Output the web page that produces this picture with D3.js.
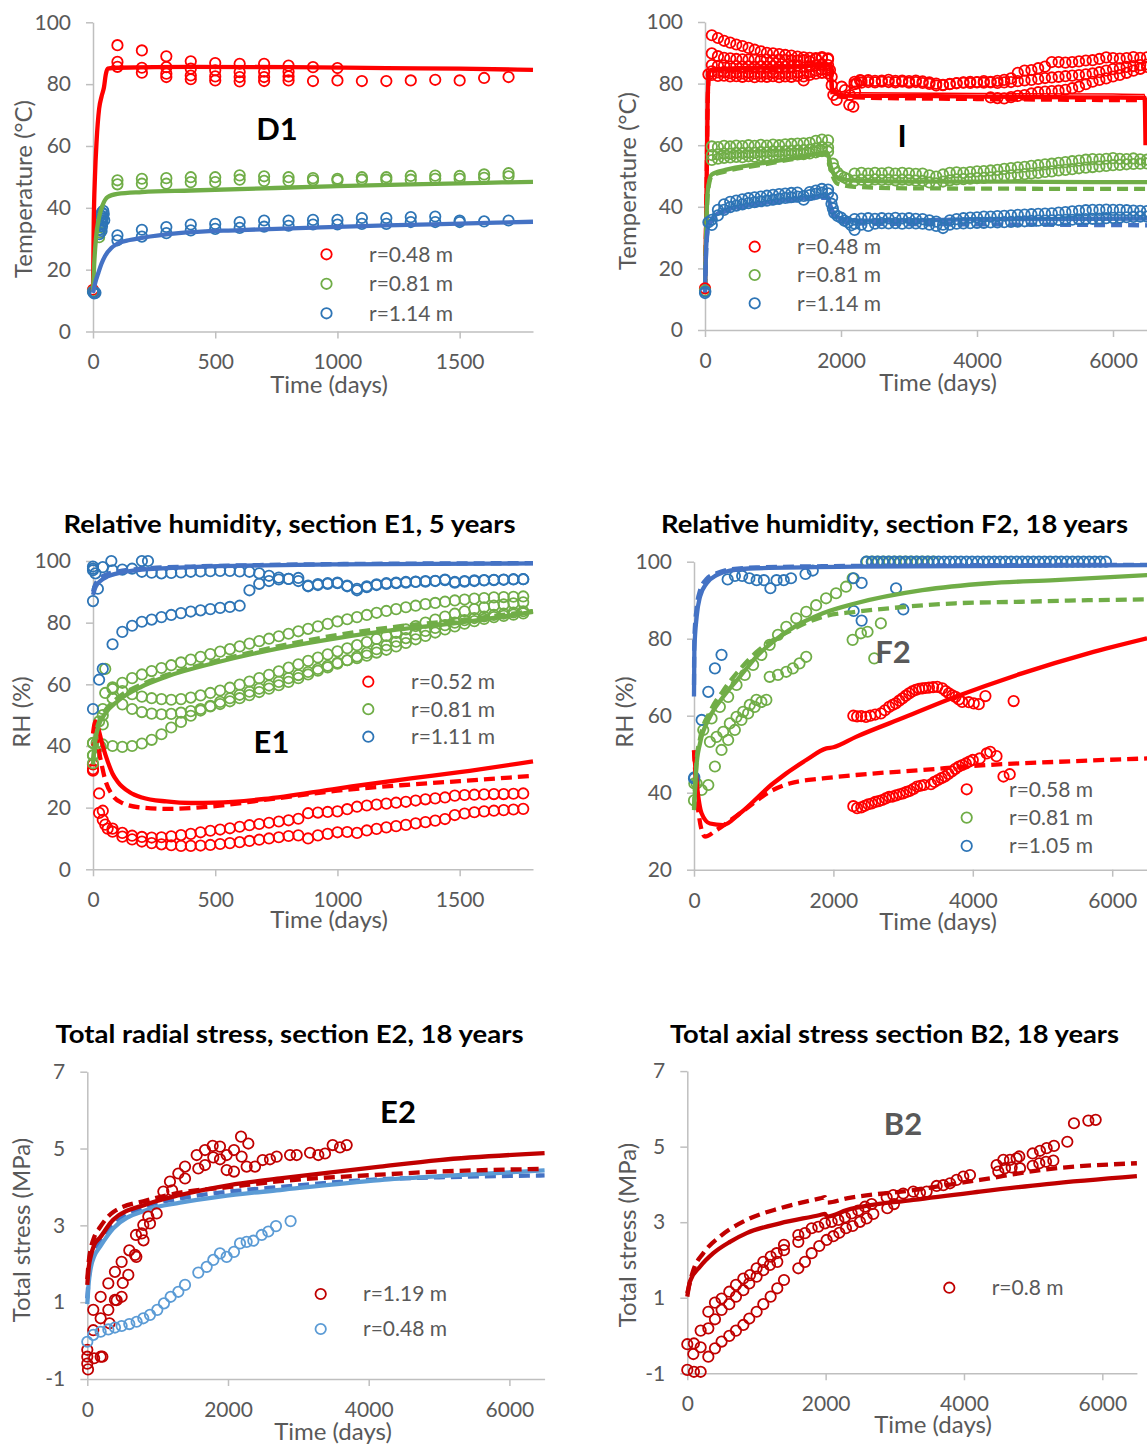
<!DOCTYPE html>
<html><head><meta charset="utf-8">
<script src="https://cdn.jsdelivr.net/npm/d3@7"></script>
<style>
body{margin:0;background:#fff}
svg{display:block}
text{font-family:Lato,'Open Sans',sans-serif}
</style>
</head><body>
<svg id="c" width="1147" height="1445"></svg>
<script>
// ======================= DATA =======================
// ---- Panel D1 : temperature, section D1 ----
const d1TicksX = [0, 500, 1000, 1500];
const d1TicksY = [0, 20, 40, 60, 80, 100];
const d1Legend = ["r=0.48 m", "r=0.81 m", "r=1.14 m"];
const d1RedObs = [[0,13.5],[3,12.8],
 [100,92.6],[100,87.2],[100,85.6],[200,90.9],[200,85.3],[200,83.7],
 [300,89.0],[300,85.5],[300,83.4],[300,82.3],[400,87.4],[400,85.0],[400,82.8],[400,81.6],
 [500,86.8],[500,84.5],[500,82.5],[500,81.2],[600,86.6],[600,83.9],[600,82.3],[600,80.9],
 [700,86.6],[700,84.0],[700,82.3],[700,81.0],[800,86.0],[800,84.0],[800,82.5],[800,81.2],
 [900,85.5],[900,81.0],[1000,85.2],[1000,81.2],[1100,81.0],[1200,81.0],[1300,81.2],
 [1400,81.4],[1500,81.2],[1600,82.0],[1700,82.3]];
const d1GreenObs = [[0,13],[25,30.5],[30,32],
 [100,48.9],[100,47.6],[200,49.4],[200,47.8],[300,49.6],[300,47.8],[400,49.9],[400,48.3],
 [500,49.9],[500,48.3],[600,50.5],[600,49.1],[700,50.2],[700,48.7],[800,49.9],[800,48.7],
 [900,49.6],[900,48.9],[1000,49.4],[1000,48.9],[1100,49.9],[1100,49.1],[1200,49.9],[1200,49.1],
 [1300,50.3],[1300,49.1],[1400,50.4],[1400,49.4],[1500,50.3],[1500,49.4],[1600,50.8],[1600,49.7],
 [1700,51.2],[1700,50.2]];
const d1BlueObs = [[0,12.8],[5,12.3],[10,12.5],
 [26,31.5],[28,33],[30,34.5],[32,36],[34,37.5],[36,38.5],[38,35],[40,37],[42,39],[35,32.5],[37,34],[39,36.5],[44,38],[46,36],
 [100,31.1],[100,29.5],[200,32.9],[200,30.7],[300,33.8],[300,31.8],[400,34.6],[400,32.7],
 [500,34.8],[500,33.2],[600,35.4],[600,33.5],[700,35.9],[700,33.9],[800,35.9],[800,34.2],
 [900,36.1],[900,34.6],[1000,36.1],[1000,34.6],[1100,36.7],[1100,34.8],[1200,36.7],[1200,34.8],
 [1300,37.0],[1300,35.4],[1400,37.2],[1400,35.4],[1500,35.9],[1500,35.4],[1600,35.6],[1700,35.9]];
const d1RedSim = [[0,13],[3,35],[8,50],[15,62],[25,72],[35,76],[45,79],[52,83],[60,85],[100,85.3],[400,85.6],[800,85.5],[1200,85.2],[1500,85],[1800,84.6]];
const d1GreenSim = [[0,13],[5,22],[12,30],[25,37],[40,41],[60,43.5],[100,44.5],[200,45.1],[400,45.6],[700,46.3],[1000,47],[1300,47.6],[1600,48.1],[1800,48.4]];
const d1BlueSim = [[0,12.5],[10,16],[22,19],[35,22],[50,24.5],[75,27],[100,28.4],[150,29.6],[200,30.3],[350,31.8],[600,32.8],[900,33.6],[1200,34.3],[1500,34.9],[1800,35.5]];

// ---- Panel I : temperature, section I ----
const iTicksX = [0, 2000, 4000, 6000];
const iTicksY = [0, 20, 40, 60, 80, 100];
const iLegend = ["r=0.48 m", "r=0.81 m", "r=1.14 m"];
const iPreDays = [100,190,280,370,460,550,640,730,820,910,1000,1090,1180,1270,1360,1450,1540,1630,1720,1810];
const iPostDays = [2200,2300,2400,2500,2600,2700,2800,2900,3000,3100,3200,3300,3400,3500,3600,3700,3800,3900,4000,4100,4200,4300,4400,4500,4600,4700,4800,4900,5000,5100,5200,5300,5400,5500,5600,5700,5800,5900,6000,6100,6200,6300,6400,6500];
const iLateDays = [4200,4300,4400,4500,4600,4700,4800,4900,5000,5100,5200,5300,5400,5500,5600,5700,5800,5900,6000,6100,6200,6300,6400,6500];
const iRedA = [95.7,94.8,93.9,93.3,92.7,92.2,91.6,91.0,90.5,90.0,89.8,89.6,89.3,89.1,88.8,88.5,88.4,88.3,88.6,88.2];
const iRedB = [89.8,88.9,88.4,88.2,88.0,87.9,87.8,87.9,87.7,87.8,87.6,87.8,87.7,87.6,87.5,87.6,87.2,88.0,88.3,87.9];
const iRedC = [86.0,85.8,85.9,85.6,85.7,85.5,85.6,85.4,85.6,85.5,85.7,85.4,85.6,85.5,85.8,81.0,85.6,85.9,86.3,86.0];
const iRedD = [84.0,83.6,83.7,83.4,83.5,83.3,83.5,83.2,83.4,83.3,83.5,83.2,83.4,83.3,83.6,83.4,83.8,84.2,84.5,84.3];
const iRedE = [82.8,82.5,82.6,82.3,82.4,82.2,82.4,82.1,82.3,82.2,82.4,82.1,82.3,82.2,82.5,82.3,82.8,83.2,83.5,83.3];
const iRedTransient = [[0,13.5],[50,83],[1838,84.4],[1863,82.2],[1863,79.5],[1887,76.3],[1936,74.7],[2010,79],[2059,77.9],[2122,73.1],[2181,72.5],[2132,76.3],[2206,77.4],[2230,80.1],[2279,81.1]];
const iRedF = [80.6,81.0,81.1,80.9,81.0,81.2,80.9,81.0,80.8,81.0,80.7,80.4,80.0,79.6,79.8,80.2,80.4,80.6,80.5,80.8,80.6,80.9,81.2,81.7,83.5,84.2,84.4,85.0,85.5,87.0,87.0,86.8,87.0,87.2,87.5,87.6,88.0,88.5,88.3,88.1,88.3,88.6,88.4,88.5];
const iRedG = [79.8,80.3,80.5,80.4,80.6,80.5,80.4,80.6,80.3,80.5,80.2,79.9,79.4,79.5,79.9,80.1,80.3,80.2,80.4,80.3,80.4,80.2,80.4,80.5,80.8,81.0,81.2,81.5,81.8,82.0,82.2,82.4,82.6,82.8,83.0,83.3,83.7,84.2,84.7,85.0,85.4,85.7,86.0,86.2];
const iRedH = [75.5,75.3,75.2,75.6,76.0,76.3,76.8,77.2,77.4,77.6,77.7,78.0,78.5,79.0,79.8,80.6,81.2,81.7,82.3,82.8,83.5,84.2,84.8,85.4];
const iGreenA = [59.6,59.4,59.8,59.6,59.9,59.7,60.0,59.8,60.1,59.9,60.2,60.0,60.3,60.4,60.5,60.6,60.8,61.4,61.8,61.6];
const iGreenB = [56.8,57.0,57.3,57.2,57.5,57.4,57.6,57.5,57.8,57.7,58.0,57.9,58.1,58.2,58.3,58.4,58.6,59.0,59.4,59.2];
const iGreenC = [55.2,55.6,55.9,56.0,56.2,56.1,56.4,56.3,56.5,56.4,56.7,56.6,56.8,56.9,57.0,57.1,57.3,57.7,58.1,57.9];
const iGreenTransient = [[0,12.8],[1880,54],[1900,52.5],[1950,51],[2000,50],[2050,49.5],[2100,49]];
const iGreenD = [50.8,51.0,50.8,51.0,50.9,51.1,50.8,51.0,50.9,50.7,50.8,50.2,49.8,50.5,51.0,51.2,51.0,51.3,51.5,51.6,51.8,52.0,52.3,52.6,52.8,53.0,53.3,53.5,53.8,54.0,54.3,54.5,54.8,55.0,55.3,55.5,55.4,55.6,55.8,55.6,55.5,55.7,55.4,55.3];
const iGreenE = [48.5,48.8,48.6,48.9,48.7,48.8,48.6,48.8,48.7,48.5,48.4,47.9,47.6,48.2,48.6,48.9,49.0,49.1,49.3,49.4,49.6,49.8,50.0,50.2,50.4,50.6,50.8,51.0,51.3,51.5,51.8,52.0,52.2,52.5,52.7,52.9,53.1,53.3,53.5,53.6,53.8,53.9,54.0,54.1];
const iBlueA = [35.8,39.0,40.8,41.6,42.0,42.4,42.8,43.1,43.3,43.6,43.9,44.1,44.3,44.5,44.6,42.3,44.8,45.3,45.8,45.6];
const iBlueB = [34.1,37.2,39.0,39.9,40.4,40.8,41.2,41.5,41.8,42.0,42.3,42.6,42.9,43.1,43.3,43.5,43.8,44.2,44.6,44.4];
const iBlueTransient = [[0,12],[5,12.5],[50,35],[1860,41],[1870,43],[1880,39.5],[1900,38],[1950,37],[2000,36.5],[2050,35.5],[2100,35],[2150,34],[2200,32.5]];
const iBlueC = [36.0,36.2,36.3,36.1,36.3,36.2,36.4,36.2,36.3,36.1,36.0,35.6,35.2,34.2,35.6,36.0,36.3,36.5,36.6,36.8,36.8,37.0,37.1,37.2,37.4,37.5,37.6,37.7,37.8,37.9,38.1,38.3,38.5,38.7,38.9,39.0,39.0,39.1,39.0,39.0,38.9,38.8,38.7,38.6];
const iBlueD = [34.5,34.2,33.8,34.5,34.7,34.6,34.7,34.5,34.7,34.6,34.5,34.2,33.8,33.1,34.2,34.5,34.6,34.7,34.8,34.8,34.9,34.9,35.0,35.1,35.2,35.3,35.4,35.5,35.5,35.6,35.7,35.8,35.8,35.9,36.0,36.1,36.2,36.3,36.4,36.5,36.6,36.7,36.8,36.8];
const iRedSim = [[0,13],[20,40],[40,75],[60,83.5],[100,84.5],[500,85],[1000,85.3],[1500,85.8],[1840,86.2],[1870,78],[1950,76.5],[2200,76],[3000,76],[4000,75.8],[5000,75.6],[6000,75.5],[6465,75.4],[6478,60]];
const iRedSimThin = [[1870,79],[1950,77.5],[2200,77],[4000,76.8],[6000,76.6],[6465,76.5],[6478,61]];
const iRedSimDash = [[0,13],[20,40],[40,75],[60,83],[100,84.2],[500,84.8],[1000,85.1],[1500,85.6],[1840,86],[1880,76],[2200,75.5],[4000,75],[6500,74.6]];
const iGreenSim = [[0,13],[20,35],[50,47],[100,50.5],[300,52],[800,54],[1300,55.8],[1800,57.5],[1850,53],[1950,49.5],[2200,48.5],[3000,48.2],[4000,48.2],[5000,48.1],[6000,48],[6500,48]];
const iGreenSimDash = [[0,13],[20,34],[50,46],[100,50],[300,51.5],[800,53.5],[1300,55.5],[1800,57],[1850,52],[1950,47.5],[2200,46.5],[3000,46],[6500,45.8]];
const iBlueSim = [[0,12],[20,28],[50,34],[100,36],[300,39],[800,41],[1300,42.5],[1800,43.5],[1850,40],[1950,36.5],[2200,35.5],[3000,35.5],[4000,36],[5000,36],[6500,36.2]];
const iBlueSimDash = [[0,12],[20,27],[50,33.5],[100,35.5],[300,38.5],[800,40.6],[1300,42],[1800,43],[1850,39],[1950,35.5],[2200,34.6],[3000,34.4],[4000,34.3],[6500,34]];

// ---- Panel E1 : relative humidity ----
const e1Title = "Relative humidity, section E1, 5 years";
const e1TicksX = [0, 500, 1000, 1500];
const e1TicksY = [0, 20, 40, 60, 80, 100];
const e1Legend = ["r=0.52 m", "r=0.81 m", "r=1.11 m"];
const e1Days = [0,40,80,120,160,200,240,280,320,360,400,440,480,520,560,600,640,680,720,760,800,840,880,920,960,1000,1040,1080,1120,1160,1200,1240,1280,1320,1360,1400,1440,1480,1520,1560,1600,1640,1680,1720,1760];
const e1RedA = [34,19,13.2,11.8,10.9,10.5,10.3,10.4,10.7,11.1,11.5,12.0,12.5,12.9,13.3,13.8,14.3,14.7,15.1,15.5,15.9,16.4,18.2,18.4,18.6,18.8,19.5,20.3,20.7,21.0,21.3,21.6,21.9,22.3,22.7,23.0,23.3,23.9,24.1,24.2,24.3,24.4,24.4,24.5,24.6];
const e1RedB = [32,16,12.2,10.6,9.7,9.0,8.5,8.1,7.8,7.6,7.6,7.7,7.9,8.2,8.5,8.8,9.2,9.6,10.0,10.4,10.8,11.0,10.0,11.0,11.5,12.0,12.1,11.8,12.6,13.1,13.6,14.0,14.4,14.9,15.3,15.8,16.3,17.6,18.1,18.5,18.8,19.0,19.2,19.4,19.6];
const e1RedExtra = [[0,32.5],[25,24.6],[25,18.3],[50,14.5],[60,13.2]];
const e1GreenS1 = [41,40.5,40,39.7,40,40.8,42,43.8,46,47.8,49.8,51.5,53,54.3,55.5,56.6,57.6,58.6,59.6,60.8,62,63,64,65,66,67,67.8,68.5,69.3,70.3,71.2,72.3,73.4,74.6,75.7,76.8,77.8,78.8,79.7,80.5,81.2,81.8,82.2,82.6,83];
const e1GreenS2 = [null,47,55.5,53.5,52,51,50.5,50.3,50.4,50.8,51.3,52,52.8,53.6,54.5,55.5,56.5,57.5,58.6,59.7,60.8,62,63.2,64.4,65.5,66.7,67.8,69,70.2,71.4,72.6,73.8,75,76.2,77.3,78.3,79.2,80,80.8,81.5,82,82.5,82.9,83.3,83.7];
const e1GreenS3 = [null,52,58.5,57.8,56.8,56,55.5,55.2,55,55.2,55.7,56.4,57.2,58,58.9,59.9,60.9,62,63.1,64.2,65.4,66.5,67.6,68.7,69.7,70.7,71.7,72.7,73.7,74.7,75.7,76.7,77.8,78.9,80,81,82,82.9,83.7,84.4,85,85.5,85.9,86.3,86.6];
const e1GreenS4 = [37,50,59,60.5,62,63.2,64.3,65.3,66.2,67.1,68,68.9,69.8,70.6,71.4,72.3,73.2,74,74.8,75.6,76.4,77.2,78,78.8,79.6,80.4,81.1,81.8,82.5,83.2,83.8,84.4,85,85.5,86,86.4,86.8,87.2,87.5,87.8,88,88.2,88.3,88.4,88.5];
const e1GreenExtra = [[0,40.9],[0,37],[0,34.4],[15,41],[25,48],[50,57.2],[50,65],[30,40]];
const e1BlueS1 = [97.5,98,97,97.2,97.5,96.5,96.2,96.0,96.1,96.3,96.5,96.6,96.7,96.8,96.8,96.6,96.5,96.0,95.2,94.6,94.2,93.5,91.8,92.2,92.6,92.8,91.8,90.5,91.5,92.2,92.6,92.8,93.0,93.2,93.3,93.5,93.8,93.2,93.5,93.7,93.8,93.9,94.0,94.1,94.1];
const e1BlueS2 = [52,65,73,77,79,80.3,81,81.8,82.5,83.1,83.6,84,84.4,84.8,85.1,85.5,90.5,92.6,93.5,94,94.2,94.5,92,92.5,92.8,93,92,91,91.8,92.4,92.8,93,93.2,93.3,93.5,93.6,94,93,93.3,93.5,93.7,93.8,93.9,94,94.1];
const e1BlueExtra = [[0,87],[0,97],[0,98.2],[10,96],[20,91],[25,61.5],[75,100],[200,100],[225,100]];
const e1RedSim = [[0,44],[10,48],[20,46],[40,40],[60,35],[80,31],[100,28.5],[150,25],[200,23.3],[300,22],[400,21.5],[500,21.6],[700,22.8],[1000,26.2],[1300,29.5],[1500,31.5],[1800,35]];
const e1RedSimDash = [[0,40],[15,42],[30,36],[50,29],[80,24],[120,21.5],[200,20],[300,19.6],[500,20.5],[700,22.5],[1000,25.5],[1300,27.5],[1500,28.6],[1800,30.3]];
const e1GreenSim = [[0,34],[10,42],[25,47],[50,50.5],[100,54.5],[200,59.3],[300,62.5],[500,67],[750,71.5],[1000,75],[1250,77.8],[1500,80],[1800,83.5]];
const e1GreenSimDash = [[0,35],[10,43],[25,48],[50,51.5],[100,55.5],[200,60],[300,63],[500,67.5],[750,72.2],[1000,76],[1250,78.8],[1500,80.8],[1800,83.8]];
const e1BlueSim = [[0,89],[10,91.5],[30,93.5],[60,95],[100,96],[200,97.2],[400,98],[700,98.6],[1000,98.9],[1400,99.1],[1800,99.2]];
const e1BlueSimDash = [[0,90],[10,92.5],[30,94.5],[60,95.8],[100,96.6],[200,97.5],[400,98.2],[700,98.7],[1000,99],[1800,99.3]];

// ---- Panel F2 : relative humidity ----
const f2Title = "Relative humidity, section F2, 18 years";
const f2TicksX = [0, 2000, 4000, 6000];
const f2TicksY = [20, 40, 60, 80, 100];
const f2Legend = ["r=0.58 m", "r=0.81 m", "r=1.05 m"];
const f2RedUpper = [[2286,60],[2340,59.8],[2400,59.9],[2467,59.7],[2530,60.0],[2600,60.3],[2681,60.6],[2740,61.4],[2800,62.3],[2850,62.8],[2895,63.2],[2945,63.9],[2990,64.5],[3040,65.2],[3086,65.8],[3130,66.3],[3181,66.7],[3230,67],[3276,67.1],[3320,67.2],[3371,67.3],[3430,67.4],[3490,67.5],[3562,67.1],[3610,66.4],[3657,65.8],[3705,65.3],[3752,64.9],[3800,64.2],[3848,63.6],[3943,63.5],[4014,63.2],[4086,63],[4181,65.1],[4586,63.8]];
const f2RedLower = [[2286,36.5],[2340,36.0],[2400,36.2],[2450,36.6],[2500,37.0],[2550,37.2],[2600,37.6],[2650,37.8],[2700,38.1],[2750,38.5],[2800,38.9],[2850,39.0],[2900,39.3],[2950,39.6],[3000,39.8],[3050,40.2],[3100,40.5],[3150,41.0],[3200,41.6],[3250,41.8],[3300,42],[3400,42.2],[3450,42.8],[3500,43.3],[3550,43.8],[3600,44.2],[3650,44.9],[3700,45.5],[3750,46.2],[3800,46.8],[3850,47.2],[3900,47.6],[3950,48.1],[4000,48.5],[4100,48.9],[4200,50.2],[4250,50.6],[4340,49.5],[4440,44.2],[4530,44.8]];
const f2GreenA = [[133,56.3],[252,59.3],[371,62.3],[490,64.9],[610,68],[729,70.6],[848,73.2],[967,75.8],[1086,78.4],[1205,81],[1324,83.1],[1467,85.3],[1610,87],[1752,88.7],[1895,90.5],[2038,91.8],[2181,93.5],[2276,95.7]];
const f2GreenB = [[229,53.2],[324,54.5],[419,55.8],[514,58],[610,59.7],[705,61],[800,62.8],[895,64.1],[1086,70.1],[1205,70.6],[1324,71.4],[1419,72.3],[1514,73.6],[1610,75.3]];
const f2GreenC = [[0,38],[5,42.4],[38,42.4],[110,40.7],[205,42],[300,46.8],[395,51.1],[490,53.7],[586,56.3],[681,58.9],[776,60.6],[871,62.3],[967,63.6],[1038,64.1]];
const f2GreenIso = [[2276,79.7],[2395,81.4],[2490,81.8],[2681,84],[2586,74.9],
 [2480,100],[2560,100],[2640,100],[2720,100],[2800,100],[2880,100],[2960,100],[3040,100],[3120,100],[3200,100],[3280,100],[3360,100],[3440,100]];
const f2BlueObs = [[0,43.7],[5,44],[110,58.9],[205,66.2],[300,72.3],[395,75.8],[483,95.4],[587,96.3],[691,96.3],[795,95.7],[899,95.2],[1003,95.2],[1096,93.1],[1184,95.2],[1288,95.2],[1392,95.7],[1600,96.8],[1704,97.7],[2291,95.7],[2405,94.5],[2291,87.2],[2405,84.7],[2899,93.1],[3003,87.6]];
const f2BlueTop = [[2470,100],[2550,100],[2630,100],[2710,100],[2790,100],[2870,100],[2950,100],[3030,100],[3110,100],[3190,100],[3270,100],[3350,100],[3430,100],[3510,100],[3590,100],[3670,100],[3750,100],[3830,100],[3910,100],[3990,100],[4070,100],[4150,100],[4230,100],[4310,100],[4390,100],[4470,100],[4550,100],[4630,100],[4710,100],[4790,100],[4870,100],[4950,100],[5030,100],[5110,100],[5190,100],[5270,100],[5350,100],[5430,100],[5510,100],[5590,100],[5670,100],[5750,100],[5830,100],[5910,100]];
const f2RedSim = [[0,51],[40,42.4],[110,34.6],[229,32],[419,31.6],[657,34.6],[1133,42.4],[1610,48.5],[1900,51.5],[2000,51.8],[2324,54.5],[3038,59.7],[3752,64.9],[4705,71],[5657,76.2],[6500,80.1]];
const f2RedSimDash = [[0,51],[60,35.5],[157,28.6],[324,30.3],[657,34.6],[1133,40.7],[1371,42.4],[1848,43.7],[2324,44.6],[3276,45.9],[4229,47.2],[5181,48],[6500,48.9]];
const f2GreenSim = [[0,35.5],[38,47.6],[86,52.8],[229,59.7],[419,64.9],[657,70.1],[895,75.3],[1371,82.3],[1848,86.6],[2324,89.2],[3276,92.6],[4229,94.4],[5181,95.2],[6500,96.5]];
const f2GreenSimDash = [[0,36],[38,48.5],[86,54],[229,61],[419,66.5],[657,72],[895,76.5],[1371,82],[1848,85.7],[2324,87],[2800,87.9],[3752,89.2],[4705,89.6],[5657,90],[6500,90.2]];
const f2BlueSim = [[0,65],[5,77],[38,85.7],[86,90.9],[181,94.4],[324,96.5],[514,97.7],[895,98.3],[2324,98.7],[6500,99.1]];
const f2BlueSimDash = [[0,68],[5,80],[38,88],[86,92.5],[181,95.5],[324,97],[514,98],[895,98.5],[2324,98.9],[6500,99.2]];

// ---- Panel E2 : total radial stress ----
const e2Title = "Total radial stress, section E2, 18 years";
const e2TicksX = [0, 2000, 4000, 6000];
const e2TicksY = [-1, 1, 3, 5, 7];
const e2Legend = ["r=1.19 m", "r=0.48 m"];
const e2RedObs = [[0,-0.6],[0,-0.24],[0,-0.42],[10,-0.75],[97,-0.46],[214,-0.42],[85,0.27],[85,0.8],[190,-0.42],[190,0.58],[190,1.14],[299,0.8],[299,1.49],[316,0.45],[393,1.06],[393,1.79],[417,1.05],[488,1.14],[488,2.05],[504,1.5],[583,1.71],[597,2.35],[678,2.23],[692,2.75],[697,2.18],[773,2.79],[796,3.01],[799,2.61],[867,3.23],[891,3.05],[986,3.31],[1081,3.88],[1175,4.14],[1206,3.91],[1294,4.35],[1389,4.53],[1389,4.22],[1555,4.83],[1578,4.48],[1673,4.96],[1673,4.57],[1782,5.07],[1791,4.77],[1886,5.05],[1886,4.72],[1981,4.83],[1981,4.44],[2085,4.96],[2085,4.4],[2185,5.31],[2194,4.79],[2289,5.13],[2265,4.53],[2384,4.53],[2493,4.7],[2597,4.72],[2692,4.79],[2882,4.83],[2976,4.83],[3166,4.89],[3284,4.83],[3379,4.87],[3488,5.09],[3592,5.03],[3687,5.09]];
const e2BlueObs = [[0,-0.03],[85,0.15],[190,0.23],[299,0.29],[393,0.34],[488,0.38],[597,0.43],[701,0.49],[796,0.58],[891,0.67],[995,0.8],[1090,0.97],[1185,1.14],[1294,1.27],[1389,1.45],[1578,1.77],[1697,1.92],[1791,2.1],[1886,2.27],[1981,2.18],[2085,2.31],[2171,2.53],[2265,2.57],[2360,2.6],[2479,2.75],[2573,2.84],[2682,2.98],[2890,3.11]];
const e2RedSim = [[0,1.45],[20,1.9],[50,2.2],[100,2.5],[180,2.68],[370,3.15],[844,3.55],[1318,3.79],[2028,4.05],[2739,4.22],[4161,4.53],[5000,4.7],[6500,4.88]];
const e2RedSimDash = [[0,1.6],[20,2.05],[50,2.4],[100,2.7],[180,2.95],[370,3.35],[844,3.65],[1318,3.85],[2028,4.0],[2739,4.15],[4161,4.32],[5000,4.4],[6500,4.47]];
const e2BlueSim = [[0,0.95],[20,1.5],[50,1.9],[100,2.2],[180,2.44],[370,2.92],[844,3.4],[1318,3.59],[1886,3.75],[2739,3.92],[4161,4.18],[5000,4.28],[6500,4.43]];
const e2BlueSimDash = [[0,1.1],[20,1.6],[50,2.0],[100,2.3],[180,2.55],[370,3.0],[844,3.5],[1318,3.7],[2028,3.88],[2739,4.0],[4161,4.2],[5000,4.25],[6500,4.3]];

// ---- Panel B2 : total axial stress ----
const b2Title = "Total axial stress section B2, 18 years";
const b2TicksX = [0, 2000, 4000, 6000];
const b2TicksY = [-1, 1, 3, 5, 7];
const b2Legend = ["r=0.8 m"];
const b2Obs = [[0,-0.23],[96,-0.21],[87,-0.49],[193,-0.31],[193,0.13],[304,0.19],[304,0.63],[400,0.43],[400,0.87],[496,0.68],[496,0.98],[607,0.83],[607,1.16],[704,1.03],[704,1.34],[810,1.2],[810,1.51],[896,1.38],[906,1.6],[1002,1.56],[1002,1.78],[1099,1.73],[1099,1.95],[1195,1.87],[1205,2.09],[1292,2.18],[1301,1.95],[1398,2.26],[1398,2.4],[1605,2.66],[1605,2.48],[1701,2.71],[1798,2.84],[1894,2.88],[1990,2.97],[2087,3.01],[2183,3.06],[2280,3.13],[2376,3.23],[2472,3.31],[2569,3.41],[2665,3.48],[2882,3.66],[2978,3.72],[3122,3.76],[3267,3.81],[3364,3.78],[3460,3.81],[3605,3.96],[3701,3.98],[3798,4.03],[3894,4.12],[3990,4.21],[4087,4.25],[4472,4.51],[4569,4.65],[4665,4.65],[4761,4.69],[4800,4.74],[4496,4.34],[4593,4.43],[4689,4.45],[4810,4.43],[4993,4.82],[5099,4.89],[5195,4.96],[5301,5.02],[4993,4.49],[5089,4.56],[5186,4.6],[5292,4.63],[5494,5.13],[5590,5.62],[5798,5.69],[5904,5.71],
 [0,-0.91],[96,-0.96],[193,-0.96],[304,-0.56],[400,-0.34],[496,-0.16],[607,-0.01],[704,0.13],[810,0.28],[896,0.45],[1002,0.63],[1099,0.83],[1205,1.03],[1301,1.25],[1398,1.47],[1605,1.78],[1701,1.95],[1798,2.18],[1908,2.37],[2014,2.53],[2111,2.63],[2198,2.72],[2294,2.84],[2390,2.9],[2496,3.01],[2593,3.1],[2689,3.22],[2892,3.37],[2988,3.48]];
const b2Sim = [[0,1.03],[38,1.43],[183,1.82],[376,2.18],[617,2.48],[858,2.71],[1340,2.97],[1918,3.19],[1990,3.22],[2020,3.15],[2304,3.32],[3267,3.59],[4231,3.81],[5195,4.01],[6500,4.22]];
const b2SimDash = [[0,1.12],[87,1.73],[231,2.18],[472,2.62],[858,3.06],[1340,3.37],[1918,3.63],[1990,3.66],[2020,3.52],[2304,3.63],[3267,3.85],[4231,4.12],[5195,4.4],[6500,4.56]];

// ======================= DRAWING =======================
const svg = d3.select('#c');
const AXIS = '#BFBFBF', TXT = '#595959';
const RED = '#FF0000', GREEN = '#70AD47', BLUEO = '#2E75B6', BLUEL = '#4472C4';
const DRED = '#C00000', LBLUE = '#5B9BD5';
const R = 5.2, SW = 1.8;

function series(days, vals){ return d3.zip(days, vals).filter(d => d[1] != null); }

function panel(cfg){
  const g = svg.append('g');
  const x = d3.scaleLinear().domain(cfg.xDomain).range([cfg.left, cfg.right]);
  const y = d3.scaleLinear().domain(cfg.yDomain).range([cfg.bottom, cfg.top]);
  const fmt = d => String(d);
  const xa = g.append('g').attr('transform', `translate(0,${cfg.bottom})`)
    .call(d3.axisBottom(x).tickValues(cfg.xTicks).tickFormat(fmt).tickSize(7).tickSizeOuter(0).tickPadding(16));
  const ya = g.append('g').attr('transform', `translate(${cfg.left},0)`)
    .call(d3.axisLeft(y).tickValues(cfg.yTicks).tickFormat(fmt).tickSize(7).tickSizeOuter(0).tickPadding(15));
  [xa, ya].forEach(a => {
    a.select('.domain').attr('stroke', AXIS).attr('stroke-width', 1.5);
    a.selectAll('.tick line').attr('stroke', AXIS).attr('stroke-width', 1.5);
    a.selectAll('.tick text').attr('fill', TXT).style('font-size', '21px').style('font-family', 'Lato');
  });
  const obsLayer = () => cfg.obs.forEach(o => {
    g.append('g').selectAll('circle').data(o.data).join('circle')
      .attr('cx', d => x(d[0])).attr('cy', d => y(d[1])).attr('r', R)
      .attr('fill', 'none').attr('stroke', o.color).attr('stroke-width', SW);
  });
  const lineGen = d3.line().x(d => x(d[0])).y(d => y(d[1])).curve(d3.curveMonotoneX);
  const simLayer = () => cfg.lines.forEach(l => {
    g.append('path').attr('d', lineGen(l.data)).attr('fill', 'none')
      .attr('stroke', l.color).attr('stroke-width', l.width || 4.3)
      .attr('stroke-dasharray', l.dash ? '11,6' : null).attr('stroke-linejoin', 'round');
  });
  if (cfg.linesFirst) { simLayer(); obsLayer(); } else { obsLayer(); simLayer(); }

  // axis titles
  g.append('text').attr('x', cfg.xTitle[0]).attr('y', cfg.xTitle[1]).attr('text-anchor', 'middle')
    .attr('fill', TXT).style('font-size', '24px').text('Time (days)');
  g.append('text').attr('transform', `translate(${cfg.yTitle[0]},${cfg.yTitle[1]}) rotate(-90)`)
    .attr('text-anchor', 'middle').attr('fill', TXT).style('font-size', '24px').text(cfg.yLabel);
  // chart title
  if (cfg.title) {
    g.append('text').attr('x', cfg.titlePos[0]).attr('y', cfg.titlePos[1])
      .attr('textLength', cfg.titlePos[2]).attr('lengthAdjust', 'spacingAndGlyphs')
      .attr('fill', '#000').style('font-size', '24px').style('font-weight', 'bold').text(cfg.title);
  }
  // panel tag
  g.append('text').attr('x', cfg.tag[0]).attr('y', cfg.tag[1]).attr('text-anchor', 'middle')
    .attr('fill', cfg.tag[3]).style('font-size', '31px').style('font-weight', 'bold').text(cfg.tag[2]);
  // legend
  cfg.legend.forEach((lab, i) => {
    const ly = cfg.legendPos[1] + i * cfg.legendPos[3];
    g.append('circle').attr('cx', cfg.legendPos[0]).attr('cy', ly).attr('r', R)
      .attr('fill', 'none').attr('stroke', cfg.legendColors[i]).attr('stroke-width', SW);
    g.append('text').attr('x', cfg.legendPos[2]).attr('y', ly).attr('dy', '0.35em')
      .attr('fill', TXT).style('font-size', '21px').text(lab);
  });
}

// Panel D1
panel({
  left: 93, right: 533, top: 22.3, bottom: 331.5, xDomain: [0, 1800], yDomain: [0, 100],
  xTicks: d1TicksX, yTicks: d1TicksY, yLabel: 'Temperature (°C)',
  xTitle: [329, 393], yTitle: [32, 189], tag: [277, 140, 'D1', '#000'],
  legend: d1Legend, legendColors: [RED, GREEN, BLUEO], legendPos: [326.5, 254.3, 369, 29.5],
  obs: [{data: d1RedObs, color: RED}, {data: d1GreenObs, color: GREEN}, {data: d1BlueObs, color: BLUEO}],
  lines: [{data: d1RedSim, color: RED}, {data: d1GreenSim, color: GREEN}, {data: d1BlueSim, color: BLUEL}]
});

// Panel I
panel({
  left: 705, right: 705 + 7000 * 0.068, top: 22, bottom: 330, xDomain: [0, 7000], yDomain: [0, 100],
  xTicks: iTicksX, yTicks: iTicksY, yLabel: 'Temperature (°C)',
  xTitle: [938, 391], yTitle: [636, 181], tag: [902, 147, 'I', '#000'],
  legend: iLegend, legendColors: [RED, GREEN, BLUEO], legendPos: [754.7, 246.7, 797, 28.3],
  obs: [
    {data: series(iPreDays, iRedA), color: RED}, {data: series(iPreDays, iRedB), color: RED},
    {data: series(iPreDays, iRedC), color: RED}, {data: series(iPreDays, iRedD), color: RED},
    {data: series(iPreDays, iRedE), color: RED}, {data: iRedTransient, color: RED},
    {data: series(iPostDays, iRedF), color: RED}, {data: series(iPostDays, iRedG), color: RED},
    {data: series(iLateDays, iRedH), color: RED},
    {data: series(iPreDays, iGreenA), color: GREEN}, {data: series(iPreDays, iGreenB), color: GREEN},
    {data: series(iPreDays, iGreenC), color: GREEN}, {data: iGreenTransient, color: GREEN},
    {data: series(iPostDays, iGreenD), color: GREEN}, {data: series(iPostDays, iGreenE), color: GREEN},
    {data: series(iPreDays, iBlueA), color: BLUEO}, {data: series(iPreDays, iBlueB), color: BLUEO},
    {data: iBlueTransient, color: BLUEO},
    {data: series(iPostDays, iBlueC), color: BLUEO}, {data: series(iPostDays, iBlueD), color: BLUEO}
  ],
  linesFirst: true,
  lines: [
    {data: iRedSimThin, color: RED, width: 1.5}, {data: iRedSim, color: RED}, {data: iRedSimDash, color: RED, dash: true},
    {data: iGreenSim, color: GREEN}, {data: iGreenSimDash, color: GREEN, dash: true},
    {data: iBlueSim, color: BLUEL}, {data: iBlueSimDash, color: BLUEL, dash: true}
  ]
});

// Panel E1
panel({
  left: 93, right: 533, top: 561, bottom: 869.3, xDomain: [0, 1800], yDomain: [0, 100],
  xTicks: e1TicksX, yTicks: e1TicksY, yLabel: 'RH (%)',
  xTitle: [329, 928], yTitle: [30, 712], tag: [271.5, 753, 'E1', '#000'],
  title: e1Title, titlePos: [63.5, 533, 452],
  legend: e1Legend, legendColors: [RED, GREEN, BLUEO], legendPos: [368.3, 681.7, 411, 27.5],
  obs: [
    {data: series(e1Days, e1RedA), color: RED}, {data: series(e1Days, e1RedB), color: RED}, {data: e1RedExtra, color: RED},
    {data: series(e1Days, e1GreenS1), color: GREEN}, {data: series(e1Days, e1GreenS2), color: GREEN},
    {data: series(e1Days, e1GreenS3), color: GREEN}, {data: series(e1Days, e1GreenS4), color: GREEN},
    {data: e1GreenExtra, color: GREEN},
    {data: series(e1Days, e1BlueS1), color: BLUEO}, {data: series(e1Days, e1BlueS2), color: BLUEO},
    {data: e1BlueExtra, color: BLUEO}
  ],
  lines: [
    {data: e1RedSimDash, color: RED, dash: true}, {data: e1RedSim, color: RED},
    {data: e1GreenSimDash, color: GREEN, dash: true}, {data: e1GreenSim, color: GREEN},
    {data: e1BlueSimDash, color: BLUEL, dash: true}, {data: e1BlueSim, color: BLUEL}
  ]
});

// Panel F2
panel({
  left: 694, right: 694 + 7000 * 0.0697, top: 561.7, bottom: 869.7, xDomain: [0, 7000], yDomain: [20, 100],
  xTicks: f2TicksX, yTicks: f2TicksY, yLabel: 'RH (%)',
  xTitle: [938, 930], yTitle: [633, 712], tag: [893, 663, 'F2', '#595959'],
  title: f2Title, titlePos: [661, 533, 467],
  legend: f2Legend, legendColors: [RED, GREEN, BLUEO], legendPos: [966.7, 789.3, 1009, 28.3],
  obs: [
    {data: f2RedUpper, color: RED}, {data: f2RedLower, color: RED},
    {data: f2GreenA, color: GREEN}, {data: f2GreenB, color: GREEN}, {data: f2GreenC, color: GREEN}, {data: f2GreenIso, color: GREEN},
    {data: f2BlueObs, color: BLUEO}, {data: f2BlueTop, color: BLUEO}
  ],
  lines: [
    {data: f2RedSimDash, color: RED, dash: true}, {data: f2RedSim, color: RED},
    {data: f2GreenSimDash, color: GREEN, dash: true}, {data: f2GreenSim, color: GREEN},
    {data: f2BlueSimDash, color: BLUEL, dash: true}, {data: f2BlueSim, color: BLUEL}
  ]
});

// Panel E2
panel({
  left: 87.3, right: 87.3 + 6500 * 0.07035, top: 1071.7, bottom: 1379, xDomain: [0, 6500], yDomain: [-1, 7],
  xTicks: e2TicksX, yTicks: e2TicksY, yLabel: 'Total stress (MPa)',
  xTitle: [333, 1440], yTitle: [30, 1230], tag: [398, 1123, 'E2', '#000'],
  title: e2Title, titlePos: [55.5, 1043, 468],
  legend: e2Legend, legendColors: [DRED, LBLUE], legendPos: [320.7, 1294, 363, 35],
  linesFirst: true,
  obs: [{data: e2RedObs, color: DRED}, {data: e2BlueObs, color: LBLUE}],
  lines: [
    {data: e2BlueSimDash, color: BLUEL, dash: true}, {data: e2BlueSim, color: LBLUE},
    {data: e2RedSimDash, color: DRED, dash: true}, {data: e2RedSim, color: DRED}
  ]
});

// Panel B2
panel({
  left: 687.3, right: 687.3 + 6500 * 0.06917, top: 1071.1, bottom: 1373.3, xDomain: [0, 6500], yDomain: [-1, 7],
  xTicks: b2TicksX, yTicks: b2TicksY, yLabel: 'Total stress (MPa)',
  xTitle: [933, 1433], yTitle: [636, 1235], tag: [903, 1135, 'B2', '#595959'],
  title: b2Title, titlePos: [670, 1043, 449],
  legend: b2Legend, legendColors: [DRED], legendPos: [949.3, 1287.7, 991.7, 30],
  linesFirst: true,
  obs: [{data: b2Obs, color: DRED}],
  lines: [{data: b2SimDash, color: DRED, dash: true}, {data: b2Sim, color: DRED}]
});
</script>
</body></html>
